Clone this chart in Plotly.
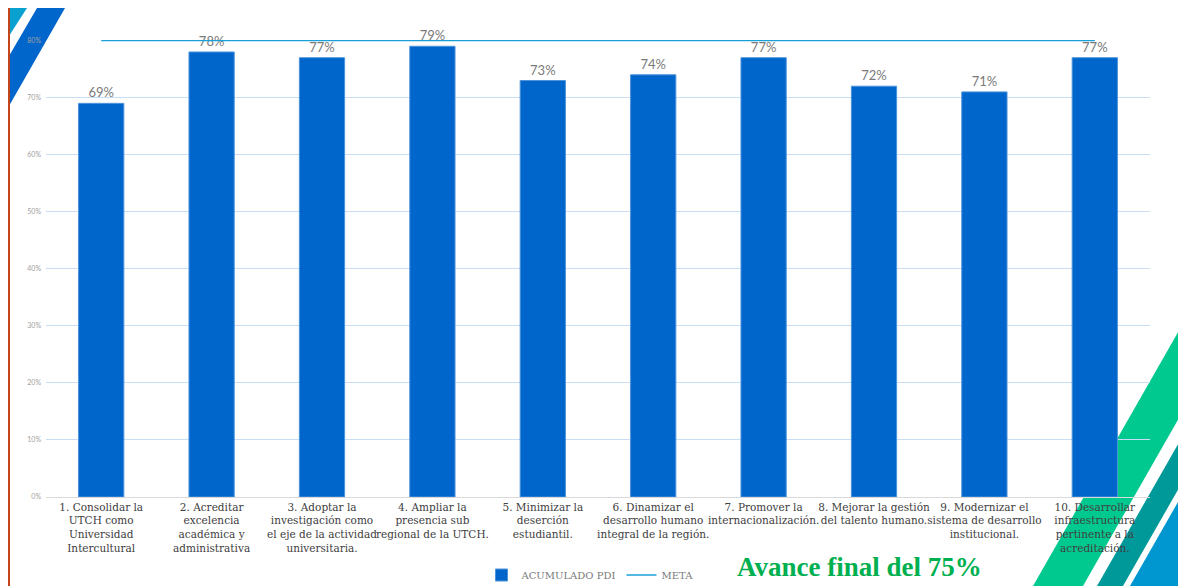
import plotly.graph_objects as go

categories = [
    "1. Consolidar la<br>UTCH como<br>Universidad<br>Intercultural",
    "2. Acreditar<br>excelencia<br>académica y<br>administrativa",
    "3. Adoptar la<br>investigación como<br>el eje de la actividad<br>universitaria.",
    "4. Ampliar la<br>presencia sub<br>regional de la UTCH.",
    "5. Minimizar la<br>deserción<br>estudiantil.",
    "6. Dinamizar el<br>desarrollo humano<br>integral de la región.",
    "7. Promover la<br>internacionalización.",
    "8. Mejorar la gestión<br>del talento humano.",
    "9. Modernizar el<br>sistema de desarrollo<br>institucional.",
    "10. Desarrollar<br>infraestructura<br>pertinente a la<br>acreditación.",
]
acumulado_pdi = [0.69, 0.78, 0.77, 0.79, 0.73, 0.74, 0.77, 0.72, 0.71, 0.77]
meta = [0.80] * 10
y_ticks = [0, 0.1, 0.2, 0.3, 0.4, 0.5, 0.6, 0.7, 0.8]

# page body has an 8px margin; figure is placed at (8, 8) in the window
W, H = 1178, 578
L, R, T, B = 38, 36, 32, 89
PW, PH = W - L - R, H - T - B


def px(x):  # window x -> paper
    return (x - 46) / PW


def py(y):  # window y -> paper
    return (497 - y) / PH


def poly(points):
    return "M " + " L ".join(f"{px(a):.5f},{py(b):.5f}" for a, b in points) + " Z"


fig = go.Figure()
fig.add_trace(go.Bar(
    x=categories, y=acumulado_pdi, name="ACUMULADO PDI",
    marker=dict(color="#0066cc", line=dict(color="#4d94db", width=1)),
    texttemplate="%{y:.0%}", textposition="outside",
    textfont=dict(family="Lato", size=13, color="#7a7a7a"),
    cliponaxis=False, width=0.41,
))
fig.add_trace(go.Scatter(
    x=categories, y=meta, name="META", mode="lines",
    line=dict(color="#1aa0d8", width=1.5),
    cliponaxis=False,
))

shapes = []
# red left line
shapes.append(dict(type="line", xref="paper", yref="paper", x0=px(9), x1=px(9), y0=py(8), y1=py(586),
                   line=dict(color="#c4441c", width=2), layer="above"))
# top-left stripes
shapes.append(dict(type="path", xref="paper", yref="paper", path=poly([(9, 8), (27, 8), (9, 36)]),
                   fillcolor="#0aa0d0", line_width=0, layer="below"))
shapes.append(dict(type="path", xref="paper", yref="paper", path=poly([(37, 8), (65, 8), (9, 106), (9, 56)]),
                   fillcolor="#0066cc", line_width=0, layer="below"))
# bottom-right stripes
s = 1.75


def stripe(xb0, xb1, color):
    pts = [(xb0, 586), (1186, 586 - (1186 - xb0) * s), (1186, 586 - (1186 - xb1) * s), (xb1, 586)]
    return dict(type="path", xref="paper", yref="paper", path=poly(pts),
                fillcolor=color, line_width=0, layer="below")


shapes.append(stripe(1033, 1083, "#00c98f"))
shapes.append(stripe(1097, 1123, "#00999a"))
shapes.append(dict(type="path", xref="paper", yref="paper",
                   path=poly([(1130, 586), (1186, 586 - 56 * s), (1186, 586)]),
                   fillcolor="#0096d0", line_width=0, layer="below"))

fig.update_layout(
    width=W, height=H,
    margin=dict(l=L, r=R, t=T, b=B),
    paper_bgcolor="white", plot_bgcolor="rgba(0,0,0,0)",
    shapes=shapes,
    showlegend=True,
    legend=dict(orientation="h", xref="container", yref="container",
                x=(590 - 8) / W, y=(H - (575 - 8)) / H, xanchor="center", yanchor="middle",
                font=dict(family="DejaVu Serif", size=10, color="#7a7a7a"),
                bgcolor="rgba(0,0,0,0)", itemwidth=30, tracegroupgap=0),
    annotations=[dict(text="<b>Avance final del 75%</b>", xref="paper", yref="paper",
                      x=px(859), y=py(567), xanchor="center", yanchor="middle", showarrow=False,
                      font=dict(family="Liberation Serif", size=27, color="#00b050"))],
    xaxis=dict(showgrid=False, showline=True, linecolor="#d9d9d9", linewidth=1,
               tickfont=dict(family="DejaVu Serif", size=10.5, color="#404040"),
               tickangle=0, ticks="", automargin=False, range=[-0.5, 9.5]),
    yaxis=dict(range=[0, 0.801], tickvals=y_ticks, tickformat=".0%",
               gridcolor="#c9def5", gridwidth=1.2, zeroline=False, showline=False,
               tickfont=dict(family="Lato", size=7, color="#a0a0a0"),
               ticklabelstandoff=4, automargin=False),
    bargap=0.59,
)

fig.write_html("out.html")
